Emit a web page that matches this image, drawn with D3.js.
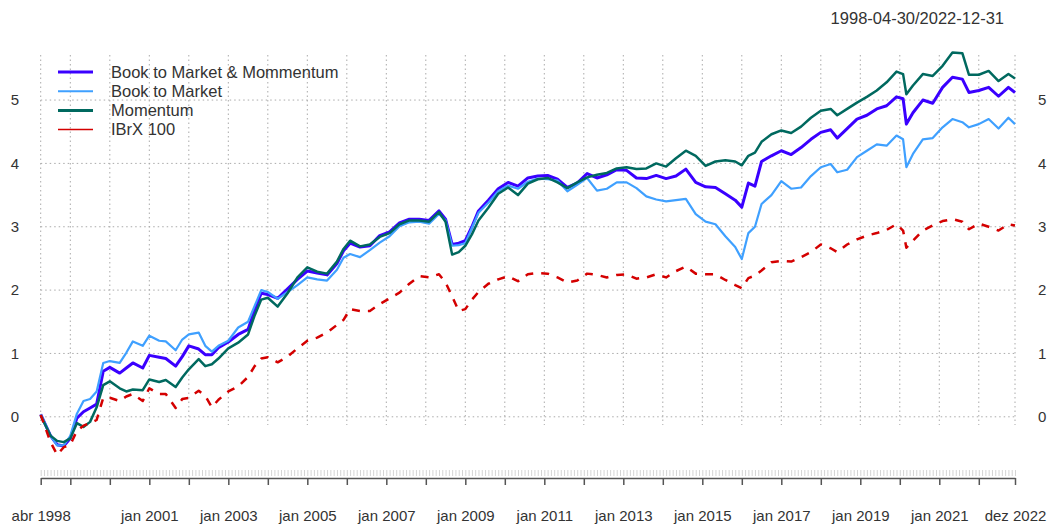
<!DOCTYPE html>
<html>
<head>
<meta charset="utf-8">
<script src="https://cdn.jsdelivr.net/npm/d3@7"></script>
<style>
  body { margin: 0; background: #fff; }
  svg { font-family: "Liberation Sans", Arial, sans-serif; }
</style>
</head>
<body>
<div id="chart"></div>
<script>
// monthly observations (sampled), Apr 1998 .. Dec 2022
const dates = ["1998-04","1998-07","1998-09","1998-11","1999-01","1999-03","1999-05","1999-07","1999-09","1999-11",
  "2000-01","2000-04","2000-06","2000-08","2000-11","2001-01","2001-04","2001-06","2001-09","2001-11",
  "2002-01","2002-04","2002-06","2002-08","2002-10","2003-01","2003-04","2003-07","2003-09","2003-11",
  "2004-01","2004-04","2004-07","2004-10","2005-01","2005-04","2005-07","2005-10","2005-12","2006-02",
  "2006-05","2006-08","2006-11","2007-02","2007-05","2007-08","2007-11","2008-02","2008-05","2008-07",
  "2008-09","2008-11","2009-01","2009-03","2009-05","2009-08","2009-11","2010-02","2010-05","2010-08",
  "2010-11","2011-02","2011-05","2011-08","2011-11","2012-02","2012-05","2012-08","2012-11","2013-02",
  "2013-05","2013-08","2013-11","2014-02","2014-05","2014-08","2014-11","2015-02","2015-05","2015-08",
  "2015-11","2016-01","2016-03","2016-05","2016-07","2016-10","2017-01","2017-04","2017-07","2017-10",
  "2018-01","2018-04","2018-06","2018-09","2018-12","2019-03","2019-06","2019-09","2019-12","2020-02",
  "2020-03","2020-05","2020-08","2020-11","2021-02","2021-05","2021-08","2021-10","2022-01","2022-04",
  "2022-07","2022-10","2022-12"];

const bmMom = [0.04,-0.3,-0.44,-0.46,-0.34,-0.02,0.08,0.14,0.2,0.72,
  0.78,0.69,0.77,0.85,0.77,0.97,0.94,0.92,0.8,0.95,
  1.12,1.07,0.98,0.98,1.09,1.18,1.3,1.38,1.69,1.95,
  1.93,1.87,2.02,2.17,2.3,2.27,2.24,2.42,2.62,2.74,
  2.68,2.7,2.86,2.92,3.06,3.12,3.12,3.1,3.25,3.12,
  2.72,2.74,2.78,3.0,3.25,3.42,3.6,3.7,3.64,3.77,
  3.8,3.81,3.75,3.62,3.69,3.84,3.77,3.82,3.9,3.89,
  3.77,3.76,3.81,3.76,3.8,3.91,3.7,3.63,3.62,3.52,
  3.42,3.31,3.69,3.64,4.03,4.12,4.2,4.14,4.25,4.38,
  4.49,4.53,4.4,4.55,4.7,4.76,4.86,4.91,5.05,5.02,
  4.62,4.8,5.0,4.95,5.2,5.36,5.33,5.12,5.15,5.2,
  5.06,5.2,5.12];

const bookMarket = [0.04,-0.3,-0.45,-0.45,-0.3,0.05,0.25,0.28,0.4,0.85,
  0.88,0.85,1.01,1.19,1.12,1.28,1.2,1.19,1.05,1.22,
  1.3,1.33,1.12,1.03,1.12,1.2,1.41,1.5,1.75,2.0,
  1.97,1.86,1.97,2.08,2.2,2.17,2.15,2.32,2.51,2.57,
  2.52,2.63,2.75,2.85,3.01,3.07,3.08,3.05,3.2,3.1,
  2.7,2.71,2.74,2.98,3.22,3.38,3.56,3.65,3.6,3.71,
  3.76,3.75,3.73,3.56,3.66,3.77,3.57,3.6,3.7,3.7,
  3.61,3.48,3.43,3.4,3.42,3.44,3.2,3.08,3.04,2.85,
  2.68,2.49,2.9,3.0,3.36,3.5,3.72,3.6,3.62,3.8,
  3.94,3.99,3.86,3.9,4.1,4.2,4.3,4.28,4.44,4.38,
  3.94,4.15,4.38,4.4,4.57,4.7,4.65,4.57,4.62,4.7,
  4.55,4.72,4.62];

const momentum = [0.02,-0.3,-0.38,-0.4,-0.34,-0.1,-0.16,-0.08,0.15,0.5,
  0.56,0.45,0.4,0.43,0.42,0.59,0.55,0.58,0.47,0.62,
  0.75,0.91,0.8,0.83,0.92,1.08,1.17,1.3,1.6,1.85,
  1.88,1.74,1.95,2.2,2.36,2.29,2.26,2.45,2.65,2.78,
  2.69,2.72,2.84,2.9,3.04,3.1,3.1,3.08,3.23,3.08,
  2.56,2.6,2.7,2.88,3.1,3.3,3.52,3.62,3.5,3.68,
  3.75,3.77,3.7,3.61,3.7,3.78,3.82,3.85,3.92,3.94,
  3.91,3.92,4.0,3.95,4.08,4.2,4.12,3.96,4.03,4.05,
  4.03,3.97,4.12,4.17,4.34,4.46,4.52,4.48,4.58,4.72,
  4.83,4.86,4.76,4.86,4.96,5.05,5.15,5.28,5.45,5.41,
  5.09,5.23,5.41,5.38,5.54,5.75,5.74,5.4,5.4,5.46,
  5.3,5.41,5.34];

const ibrx100 = [0.03,-0.4,-0.6,-0.48,-0.44,-0.22,-0.14,-0.1,-0.05,0.3,
  0.3,0.25,0.32,0.36,0.25,0.45,0.36,0.36,0.14,0.28,
  0.3,0.41,0.33,0.15,0.27,0.4,0.48,0.63,0.8,0.92,
  0.94,0.86,0.95,1.08,1.2,1.25,1.33,1.45,1.53,1.7,
  1.67,1.67,1.78,1.87,1.96,2.1,2.22,2.2,2.25,2.12,
  1.9,1.67,1.7,1.85,1.97,2.1,2.17,2.22,2.14,2.25,
  2.27,2.26,2.2,2.12,2.15,2.26,2.24,2.2,2.24,2.25,
  2.18,2.2,2.25,2.2,2.3,2.37,2.26,2.25,2.25,2.16,
  2.08,2.03,2.19,2.23,2.31,2.44,2.46,2.45,2.52,2.6,
  2.72,2.66,2.6,2.72,2.8,2.86,2.9,2.95,3.04,2.94,
  2.67,2.78,2.94,3.02,3.09,3.12,3.08,2.96,3.05,3.0,
  2.94,3.04,3.02];

const seriesNames = ["Book to Market & Mommentum", "Book to Market", "Momentum", "IBrX 100"];
const seriesValues = [bmMom, bookMarket, momentum, ibrx100];
const seriesColors = ["#3a00ff", "#3fa0ff", "#00695f", "#d40000"];
const monthNames = ["jan","fev","mar","abr","mai","jun","jul","ago","set","out","nov","dez"];
const yTicks = [0, 1, 2, 3, 4, 5];
const periodLabel = "1998-04-30/2022-12-31";

const w = 1049, h = 528;
const firstYear = 1998, firstMonth = 4, nObs = 297;
const monthIndex = s => (+s.slice(0, 4) - firstYear) * 12 + (+s.slice(5, 7) - firstMonth);
const indexLabel = i => {
  const m = (i + firstMonth - 1) % 12;
  const y = firstYear + Math.floor((i + firstMonth - 1) / 12);
  return monthNames[m] + " " + y;
};

const svg = d3.select("#chart").append("svg")
  .attr("width", w).attr("height", h);

const x = d3.scaleLinear().domain([0, nObs - 1]).range([40.7, 1015]);
const y = d3.scaleLinear().domain([0, 5]).range([416.8, 100.05]);

// major ticks: first obs, every January, last obs
const major = [0];
for (let i = 1; i < nObs - 1; i++) if ((i + firstMonth - 1) % 12 === 0) major.push(i);
major.push(nObs - 1);
const labelled = new Set([0, nObs - 1]);
major.forEach(i => {
  const yr = firstYear + Math.floor((i + firstMonth - 1) / 12);
  if ((i + firstMonth - 1) % 12 === 0 && yr % 2 === 1 && yr >= 2001 && yr <= 2021) labelled.add(i);
});

// grid
const grid = svg.append("g").attr("stroke", "#aaa").attr("stroke-dasharray", "1.5,3").attr("stroke-width", 1);
grid.selectAll("line.h").data(yTicks).enter().append("line")
  .attr("x1", x(0)).attr("x2", x(nObs - 1))
  .attr("y1", d => y(d)).attr("y2", d => y(d));
grid.selectAll("line.v").data(major).enter().append("line")
  .attr("x1", d => x(d)).attr("x2", d => x(d))
  .attr("y1", 55).attr("y2", 425);

// y labels left and right
const yAxisL = d3.axisLeft(y).tickValues(yTicks).tickSize(0).tickPadding(0).tickFormat(d3.format("d"));
const yAxisR = d3.axisRight(y).tickValues(yTicks).tickSize(0).tickPadding(0).tickFormat(d3.format("d"));
svg.append("g").attr("transform", "translate(19,0)").call(yAxisL);
svg.append("g").attr("transform", "translate(1038,0)").call(yAxisR);

// minor ticks (every month)
const minorAxis = d3.axisBottom(x).tickValues(d3.range(nObs)).tickSize(6).tickFormat("");
svg.append("g").attr("class", "minor").attr("transform", "translate(0,470)").call(minorAxis);

// major x axis
const xAxis = d3.axisBottom(x).tickValues(major).tickSize(7).tickSizeOuter(0).tickPadding(25)
  .tickFormat(d => labelled.has(d) ? indexLabel(d) : "");
svg.append("g").attr("class", "xaxis").attr("transform", "translate(0,478)").call(xAxis);

svg.selectAll(".tick text").attr("font-size", 15).attr("fill", "#333")
  .attr("font-family", "'Liberation Sans', Arial, sans-serif");
svg.selectAll("g.minor path").remove();
svg.selectAll("g.minor line").attr("stroke", "#d4d4d4");
svg.selectAll("g.xaxis path, g.xaxis line").attr("stroke", "#555").attr("stroke-width", 1.5);
svg.selectAll("g .domain").filter(function() { return !this.parentNode.classList.contains("xaxis"); }).remove();

// series
const idx = dates.map(monthIndex);
const line = d3.line().x(d => x(d[0])).y(d => y(d[1]));
const widths = [3, 2.2, 2.5, 2.5];
seriesValues.forEach((vals, k) => {
  svg.append("path")
    .datum(vals.map((v, j) => [idx[j], v]))
    .attr("fill", "none")
    .attr("stroke", seriesColors[k])
    .attr("stroke-width", widths[k])
    .attr("stroke-linejoin", "round")
    .attr("stroke-dasharray", k === 3 ? "8,8" : null)
    .attr("d", line);
});

// legend
const legendW = [3, 2, 3, 1.5];
const legend = svg.append("g").attr("transform", "translate(58,72)");
seriesNames.forEach((name, k) => {
  const yy = k * 19.2;
  legend.append("line").attr("x1", 0).attr("x2", 35).attr("y1", yy).attr("y2", yy)
    .attr("stroke", seriesColors[k]).attr("stroke-width", legendW[k]);
  legend.append("text").attr("x", 53).attr("y", yy).attr("dy", "0.35em")
    .attr("font-size", 16.5).attr("fill", "#333").text(name);
});

// period label
svg.append("text").attr("x", 1004).attr("y", 18).attr("dy", "0.35em")
  .attr("text-anchor", "end").attr("font-size", 16.5).attr("fill", "#333")
  .text(periodLabel);
</script>
</body>
</html>
